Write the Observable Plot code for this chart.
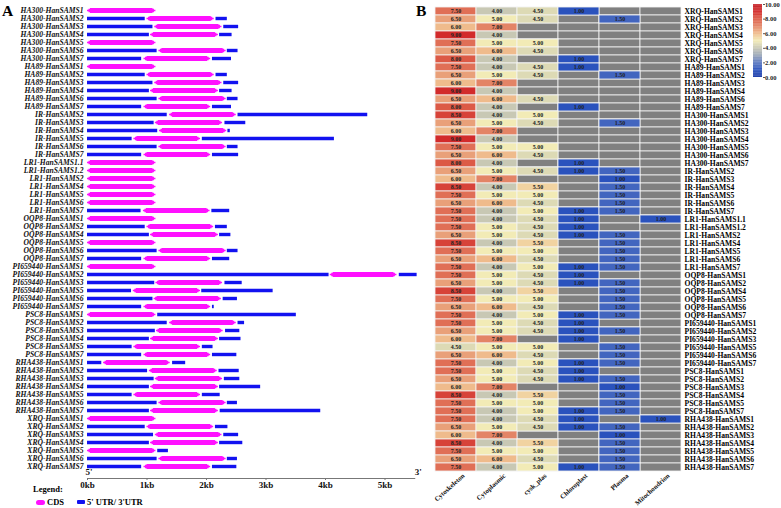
<!DOCTYPE html>
<html><head><meta charset="utf-8">
<script src="https://cdn.jsdelivr.net/npm/d3@7"></script>
<script src="https://cdn.jsdelivr.net/npm/@observablehq/plot@0.6"></script>
<style>
body{margin:0;background:#fff;}
#wrap{position:relative;width:781px;height:508px;overflow:hidden;font-family:"Liberation Serif",serif;background:#fff;}
#wrap > *{position:absolute;}
.lbl{font-weight:bold;color:#000;white-space:nowrap;}
</style></head><body><div id="wrap"></div>
<script>
// ---------- Panel A: gene structures (kb) ----------
const genesA = ["HA300-HanSAMS1","HA300-HanSAMS2","HA300-HanSAMS3","HA300-HanSAMS4","HA300-HanSAMS5","HA300-HanSAMS6","HA300-HanSAMS7",
"HA89-HanSAMS1","HA89-HanSAMS2","HA89-HanSAMS3","HA89-HanSAMS4","HA89-HanSAMS6","HA89-HanSAMS7",
"IR-HanSAMS2","IR-HanSAMS3","IR-HanSAMS4","IR-HanSAMS5","IR-HanSAMS6","IR-HanSAMS7",
"LR1-HanSAMS1.1","LR1-HanSAMS1.2","LR1-HanSAMS2","LR1-HanSAMS4","LR1-HanSAMS5","LR1-HanSAMS6","LR1-HanSAMS7",
"OQP8-HanSAMS1","OQP8-HanSAMS2","OQP8-HanSAMS4","OQP8-HanSAMS5","OQP8-HanSAMS6","OQP8-HanSAMS7",
"PI659440-HanSAMS1","PI659440-HanSAMS2","PI659440-HanSAMS3","PI659440-HanSAMS5","PI659440-HanSAMS6","PI659440-HanSAMS7",
"PSC8-HanSAMS1","PSC8-HanSAMS2","PSC8-HanSAMS3","PSC8-HanSAMS4","PSC8-HanSAMS5","PSC8-HanSAMS7",
"RHA438-HanSAMS1","RHA438-HanSAMS2","RHA438-HanSAMS3","RHA438-HanSAMS4","RHA438-HanSAMS5","RHA438-HanSAMS6","RHA438-HanSAMS7",
"XRQ-HanSAMS1","XRQ-HanSAMS2","XRQ-HanSAMS3","XRQ-HanSAMS4","XRQ-HanSAMS5","XRQ-HanSAMS6","XRQ-HanSAMS7"];
const geneStart = 0;
const utr5End = [null,0.97,1.10,1.04,null,1.17,0.91,
 null,0.97,1.10,1.04,1.17,0.91,
 1.34,1.12,1.18,0.75,1.17,0.91,
 null,null,null,null,null,null,0.90,
 null,0.97,1.04,null,1.17,0.91,
 null,4.06,1.13,0.74,1.10,0.91,
 null,1.34,1.14,1.04,0.75,0.91,
 0.24,1.01,1.12,1.04,0.75,1.17,1.04,
 null,0.97,1.11,1.04,null,1.17,0.91];
const cdsStart = [0,1.00,1.13,1.06,0,1.20,0.95,
 0,1.00,1.13,1.06,1.20,0.95,
 1.38,1.14,1.21,0.78,1.20,0.95,
 0,0,0,0,0,0,0.94,
 0,1.00,1.06,0,1.20,0.95,
 0,4.08,1.15,0.77,1.12,0.95,
 0,1.38,1.16,1.06,0.78,0.95,
 0.27,1.04,1.14,1.06,0.78,1.20,1.06,
 0,1.00,1.14,1.06,0,1.20,0.95];
const cdsEnd = [1.15,2.13,2.26,2.20,1.15,2.33,2.07,
 1.15,2.13,2.26,2.20,2.33,2.07,
 2.50,2.27,2.34,1.90,2.33,2.07,
 1.15,1.15,1.15,1.15,1.15,1.15,2.06,
 1.15,2.12,2.20,1.15,2.33,2.07,
 1.15,5.20,2.27,1.90,2.25,2.07,
 1.15,2.50,2.28,2.20,1.90,2.07,
 1.39,2.18,2.27,2.20,1.90,2.33,2.20,
 1.15,2.12,2.26,2.20,1.15,2.33,2.07];
const utr3Start = [null,2.16,2.29,2.22,null,2.35,2.10,
 null,2.16,2.29,2.22,2.35,2.10,
 2.53,2.31,2.36,1.93,2.35,2.10,
 null,null,null,null,null,null,2.09,
 null,2.15,2.22,null,2.35,2.10,
 null,5.24,2.31,1.92,2.28,2.10,
 1.18,2.53,2.32,2.22,1.93,2.10,
 1.43,2.21,2.30,2.22,1.93,2.35,2.23,
 null,2.15,2.29,2.22,1.18,2.35,2.10];
const utr3End = [null,2.35,2.54,2.43,null,2.53,2.42,
 null,2.35,2.54,2.43,2.53,2.42,
 4.71,2.66,2.40,4.15,2.53,2.54,
 null,null,null,null,null,null,2.39,
 null,2.35,2.41,null,2.53,2.39,
 null,5.54,2.60,3.12,2.52,2.13,
 3.51,2.64,2.56,2.58,2.11,2.51,
 1.65,2.55,2.56,2.91,2.23,2.52,3.92,
 null,2.36,2.54,2.61,1.36,2.52,2.51];
const kbTicks = [0,1,2,3,4,5];

// ---------- Panel B: subcellular localisation scores ----------
const genesB = ["XRQ-HanSAMS1","XRQ-HanSAMS2","XRQ-HanSAMS3","XRQ-HanSAMS4","XRQ-HanSAMS5","XRQ-HanSAMS6","XRQ-HanSAMS7",
"HA89-HanSAMS1","HA89-HanSAMS2","HA89-HanSAMS3","HA89-HanSAMS4","HA89-HanSAMS6","HA89-HanSAMS7",
"HA300-HanSAMS1","HA300-HanSAMS2","HA300-HanSAMS3","HA300-HanSAMS4","HA300-HanSAMS5","HA300-HanSAMS6","HA300-HanSAMS7",
"IR-HanSAMS2","IR-HanSAMS3","IR-HanSAMS4","IR-HanSAMS5","IR-HanSAMS6","IR-HanSAMS7",
"LR1-HanSAMS1.1","LR1-HanSAMS1.2","LR1-HanSAMS2","LR1-HanSAMS4","LR1-HanSAMS5","LR1-HanSAMS6","LR1-HanSAMS7",
"OQP8-HanSAMS1","OQP8-HanSAMS2","OQP8-HanSAMS4","OQP8-HanSAMS5","OQP8-HanSAMS6","OQP8-HanSAMS7",
"PI659440-HanSAMS1","PI659440-HanSAMS2","PI659440-HanSAMS3","PI659440-HanSAMS5","PI659440-HanSAMS6","PI659440-HanSAMS7",
"PSC8-HanSAMS1","PSC8-HanSAMS2","PSC8-HanSAMS3","PSC8-HanSAMS4","PSC8-HanSAMS5","PSC8-HanSAMS7",
"RHA438-HanSAMS1","RHA438-HanSAMS2","RHA438-HanSAMS3","RHA438-HanSAMS4","RHA438-HanSAMS5","RHA438-HanSAMS6","RHA438-HanSAMS7"];
const locations = ["Cytoskeleton","Cytoplasmic","cysk_plas","Chloroplast","Plasma","Mitochondrion"];
const cytoskeleton = [7.5,6.5,6,9,7.5,6.5,8, 7.5,6.5,6,9,6.5,8, 8.5,6.5,6,9,7.5,6.5,8, 6.5,6,8.5,7.5,6.5,7.5,
 7.5,7.5,6.5,8.5,7.5,6.5,7.5, 7.5,6.5,8.5,7.5,6.5,7.5, 7.5,6.5,6,4.5,6.5,7.5, 7.5,6.5,6,8.5,7.5,7.5, 7.5,6.5,6,8.5,7.5,6.5,7.5];
const cytoplasmic = [4,5,7,4,5,6,4, 4,5,7,4,6,4, 4,5,7,4,5,6,4, 5,7,4,5,6,4,
 4,5,5,4,5,6,4, 5,5,4,5,6,4, 5,5,7,5,6,4, 5,5,7,4,5,4, 4,5,7,4,5,6,4];
const cyskPlas = [4.5,4.5,null,null,5,4.5,null, 4.5,4.5,null,null,4.5,null, 5,4.5,null,null,5,4.5,null, 4.5,null,5.5,5,4.5,5,
 4.5,4.5,4.5,5.5,5,4.5,5, 4.5,4.5,5.5,5,4.5,5, 4.5,4.5,null,5,4.5,5, 4.5,4.5,null,5.5,5,5, 4.5,4.5,null,5.5,5,4.5,5];
const chloroplast = [1,null,null,null,null,null,1, 1,null,null,null,null,1, null,null,null,null,null,null,1, 1,null,null,null,null,1,
 1,1,1,null,null,null,1, 1,1,null,null,null,1, 1,1,1,null,null,1, 1,1,null,null,null,1, 1,1,null,null,null,null,1];
const plasma = [null,1.5,null,null,null,null,null, null,1.5,null,null,null,null, null,1.5,null,null,null,null,null, 1.5,1,1.5,1.5,1.5,1.5,
 null,null,1.5,1.5,1.5,1.5,1.5, null,1.5,1.5,1.5,1.5,1.5, null,1.5,null,1.5,1.5,1.5, null,1.5,1,1.5,1.5,1.5, null,1.5,1,1.5,1.5,1.5,1.5];
const mitochondrion = [null,null,null,null,null,null,null, null,null,null,null,null,null, null,null,null,null,null,null,null, null,null,null,null,null,null,
 1,null,null,null,null,null,null, null,null,null,null,null,null, null,null,null,null,null,null, null,null,null,null,null,null, 1,null,null,null,null,null,null];
const legendTicks = [0,2,4,6,8,10];

// colour ramp of the heat map
const heatStops = [0,1,2,3,4,5,6,7,8,9,10];
const heatColors = ["#1a3aa8","#2a52bd","#5a78c0","#9aa6b8","#c8c8b4","#f2ebb6","#efbb8c","#e38466","#dc5a46","#d22b2b","#c41e24"];
const heatColor = d3.scaleLinear().domain(heatStops).range(heatColors).interpolate(d3.interpolateRgb);

const wrap = document.getElementById("wrap");
const font = "Liberation Serif";

// ---------- build panel A ----------
const segs = [];
genesA.forEach((g, i) => {
  if (utr5End[i] != null) segs.push({gene: g, type: "UTR", start: geneStart, end: utr5End[i]});
  segs.push({gene: g, type: "CDS", start: cdsStart[i], end: cdsEnd[i]});
  if (utr3End[i] != null) segs.push({gene: g, type: "UTR", start: utr3Start[i], end: utr3End[i]});
});
const utr = segs.filter(d => d.type === "UTR");
const cds = segs.filter(d => d.type === "CDS");
const blue = "#1212f0", magenta = "#ff10ff";

const plotA = Plot.plot({
  width: 430, height: 508,
  marginLeft: 87, marginRight: 15.75, marginTop: 3, marginBottom: 30,
  style: {fontFamily: font, background: "transparent", overflow: "visible"},
  x: {domain: [0, 5.5], label: null},
  y: {domain: genesA, range: [3, 473], padding: 0, label: null},
  marks: [
    Plot.ruleY(utr, {y: "gene", x1: "start", x2: "end", stroke: blue, strokeWidth: 3.4}),
    Plot.ruleY(cds, {y: "gene", x1: d => d.start + 0.05, x2: d => d.end - 0.05, stroke: magenta, strokeWidth: 5.2}),
    Plot.ruleY(cds, {y: "gene", x1: d => d.start + 0.025, x2: d => d.end - 0.025, stroke: magenta, strokeWidth: 3.4}),
    Plot.ruleY(cds, {y: "gene", x1: "start", x2: "end", stroke: magenta, strokeWidth: 1.4}),
    Plot.axisY({label: null, tickSize: 0, tickPadding: 4, fontSize: 7.6, fontStyle: "italic", fontWeight: "bold", fill: "#111"}),
    Plot.frame({anchor: "bottom", stroke: "#777"}),
    Plot.axisX({label: null, ticks: kbTicks, tickFormat: d => d + "kb", tickSize: 2, tickPadding: 1, fontSize: 9, fontWeight: "bold", fill: "#111", stroke: "#777"}),
    Plot.text(["5'"], {frameAnchor: "bottom-left", dx: -2, dy: -4, fontSize: 9, fontWeight: "bold", fill: "#111"}),
    Plot.text(["3'"], {frameAnchor: "bottom-right", dx: 7, dy: -4, fontSize: 9, fontWeight: "bold", fill: "#111"})
  ]
});
plotA.style.left = "0px"; plotA.style.top = "0px";
wrap.appendChild(plotA);

// ---------- build panel B ----------
const columns = [cytoskeleton, cytoplasmic, cyskPlas, chloroplast, plasma, mitochondrion];
const cells = genesB.flatMap((g, i) => locations.map((loc, j) => ({gene: g, loc, value: columns[j][i]})));
const filled = cells.filter(d => d.value != null);

const plotB = Plot.plot({
  width: 351, height: 508,
  marginLeft: 3, marginRight: 99, marginTop: 1, marginBottom: 32,
  style: {fontFamily: font, background: "transparent", overflow: "visible"},
  x: {domain: locations, padding: 0, label: null, axis: null},
  y: {domain: genesB, padding: 0, label: null},
  marks: [
    Plot.cell(cells, {x: "loc", y: "gene", fill: "#808080", stroke: "#f4f4f4", strokeWidth: 0.8}),
    Plot.cell(filled, {x: "loc", y: "gene", fill: d => heatColor(d.value), stroke: "#f4f4f4", strokeWidth: 0.8}),
    Plot.text(filled, {x: "loc", y: "gene", text: d => d.value.toFixed(2), fontSize: 6, fontWeight: "bold", fill: "#222"}),
    Plot.axisY({label: null, anchor: "right", tickSize: 0, tickPadding: 2, fontSize: 7.6, fontWeight: "bold", fill: "#000"}),
    Plot.text(locations, {x: d => d, frameAnchor: "bottom", textAnchor: "end", rotate: -42, dx: 9, dy: 0, fontSize: 6.8, fontWeight: "bold", fill: "#111"})
  ]
});
plotB.style.left = "430px"; plotB.style.top = "0px";
wrap.appendChild(plotB);

// ---------- colour legend ----------
const ramp = d3.range(0, 10, 0.1);
const plotL = Plot.plot({
  width: 41, height: 90,
  marginLeft: 13, marginRight: 19, marginTop: 4, marginBottom: 13,
  style: {fontFamily: font, background: "transparent", overflow: "visible"},
  x: {domain: [0, 1], axis: null},
  y: {domain: [0, 10], label: null},
  marks: [
    Plot.rect(ramp, {x1: 0, x2: 1, y1: d => d, y2: d => Math.min(10, d + 0.13), fill: d => heatColor(d + 0.05)}),
    Plot.axisY({label: null, anchor: "right", ticks: legendTicks, tickFormat: d => d.toFixed(2), tickSize: 2, tickPadding: 0.5, fontSize: 6.5, fontWeight: "bold", fill: "#222", stroke: "#555"})
  ]
});
plotL.style.left = "740px"; plotL.style.top = "0px";
wrap.appendChild(plotL);

// ---------- panel letters and structure legend ----------
function addText(txt, left, top, size, extra) {
  const el = document.createElement("div");
  el.className = "lbl";
  el.textContent = txt;
  el.style.left = left + "px"; el.style.top = top + "px";
  el.style.fontSize = size + "px"; el.style.lineHeight = "1";
  if (extra) Object.assign(el.style, extra);
  wrap.appendChild(el);
}
addText("A", 2, 3, 15.5);
addText("B", 416, 3, 15.5);
addText("Legend:", 33, 485, 8.5);
function swatch(left, top, w, h, color, r) {
  const el = document.createElement("div");
  el.style.left = left + "px"; el.style.top = top + "px";
  el.style.width = w + "px"; el.style.height = h + "px";
  el.style.background = color; el.style.borderRadius = r + "px";
  wrap.appendChild(el);
}
swatch(36, 499.5, 8.5, 5, magenta, 2.5);
addText("CDS", 47, 498, 8.5);
swatch(76.5, 500.2, 8.5, 3.4, blue, 1);
addText("5' UTR/ 3'UTR", 87, 498, 8.5);
</script></body></html>
